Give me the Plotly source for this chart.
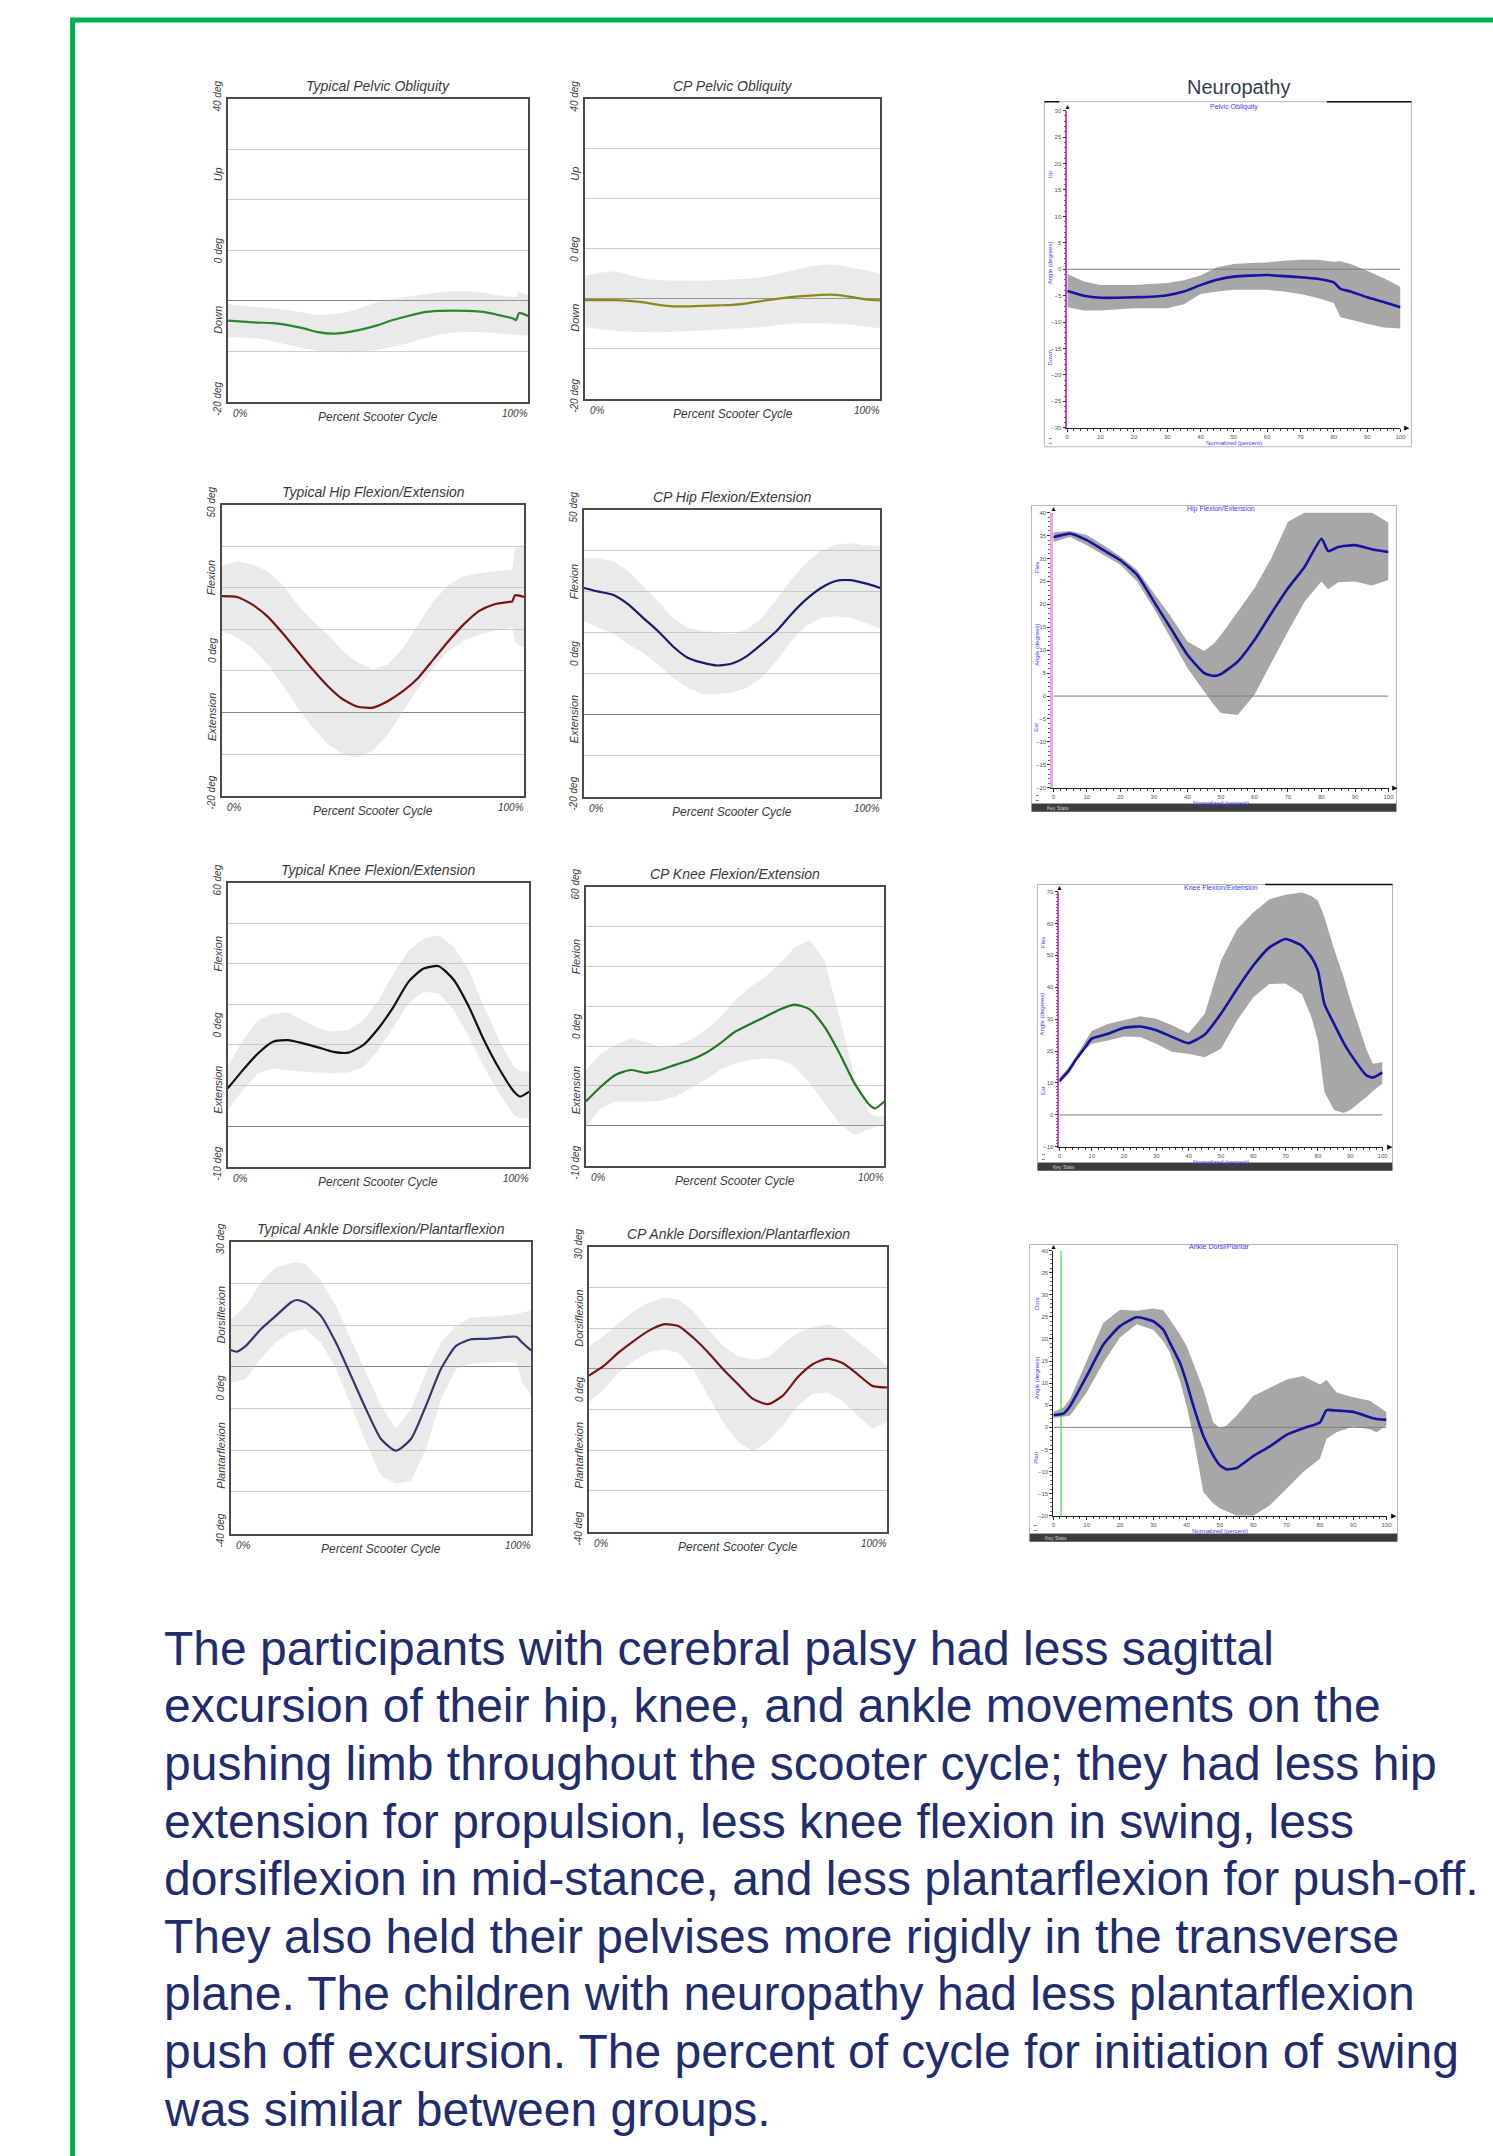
import plotly.graph_objects as go

W, H = 1493, 2156

# ---------------------------------------------------------------- data
# Typical pelvic obliquity
tpel_x = [0, 5, 10, 15, 20, 25, 30, 35, 40, 45, 50, 55, 60, 65, 70, 75, 80, 85, 90, 95, 96, 97, 100]
tpel_mean = [-3.9, -4.1, -4.3, -4.4, -4.8, -5.4, -6.2, -6.5, -6.2, -5.6, -4.8, -3.8, -3.0, -2.3, -2.0, -1.95, -2.0, -2.2, -2.8, -3.5, -3.8, -2.4, -3.0]
tpel_up = [-0.7, -1.0, -1.2, -1.5, -1.8, -2.3, -2.8, -2.6, -2.2, -1.2, -0.2, 0.4, 0.8, 1.3, 1.7, 1.9, 1.9, 1.6, 1.1, 0.8, 0.8, 1.8, 1.1]
tpel_lo = [-7.1, -7.2, -7.4, -8.0, -8.7, -9.4, -9.9, -10.1, -10.2, -10.0, -9.7, -9.1, -8.4, -7.5, -6.7, -6.3, -6.1, -6.2, -6.4, -6.7, -6.7, -6.8, -6.9]

# CP pelvic obliquity
cpel_x = [0, 5, 10, 15, 20, 25, 30, 35, 40, 45, 50, 55, 60, 65, 70, 75, 80, 85, 90, 95, 100]
cpel_mean = [-0.25, -0.25, -0.25, -0.4, -0.7, -1.2, -1.5, -1.5, -1.4, -1.3, -1.2, -0.9, -0.4, 0.0, 0.4, 0.6, 0.8, 0.8, 0.4, -0.1, -0.3]
cpel_up = [4.6, 5.2, 5.5, 4.8, 4.0, 3.7, 3.6, 3.6, 3.6, 3.7, 3.8, 4.0, 4.3, 4.9, 5.6, 6.3, 6.8, 6.8, 6.3, 5.7, 5.0]
cpel_lo = [-5.7, -6.1, -6.4, -6.6, -6.7, -6.7, -6.6, -6.5, -6.4, -6.2, -6.0, -5.9, -5.7, -5.3, -5.0, -4.9, -4.9, -5.0, -5.2, -5.5, -5.9]

# Neuropathy pelvic obliquity
npel_x = [0, 5, 10, 15, 20, 25, 30, 35, 40, 45, 50, 55, 60, 65, 70, 75, 80, 82, 85, 90, 95, 100]
npel_mean = [-4.1, -5.0, -5.4, -5.4, -5.3, -5.2, -4.9, -4.2, -3.0, -2.0, -1.4, -1.2, -1.1, -1.3, -1.5, -1.8, -2.5, -3.7, -4.2, -5.3, -6.2, -7.2]
npel_up = [-0.9, -2.3, -3.0, -3.0, -3.0, -2.8, -2.6, -2.1, -1.2, 0.4, 1.0, 1.2, 1.3, 1.6, 1.8, 1.8, 1.4, 1.5, 1.0, -0.3, -1.7, -3.3]
npel_lo = [-7.2, -7.8, -7.8, -7.6, -7.4, -7.4, -7.4, -6.6, -4.7, -4.2, -3.9, -3.9, -3.9, -4.2, -4.7, -5.4, -6.4, -9.1, -9.5, -10.3, -11.0, -11.2]

# Typical hip flexion/extension
thip_x = [0, 5, 10, 15, 20, 25, 30, 35, 40, 45, 50, 55, 60, 65, 70, 75, 80, 85, 90, 95, 96, 97, 100]
thip_mean = [28, 27.8, 26, 23.2, 19.2, 14.8, 10.4, 6.4, 3.2, 1.4, 1.2, 2.8, 5.2, 8.4, 12.8, 17.2, 21.2, 24.4, 26, 26.6, 26.7, 28.2, 27.8]
thip_up = [35.2, 36.4, 35.6, 34, 30.8, 26, 22, 18.8, 14.8, 12, 10.4, 11.6, 15.6, 21.2, 26.8, 30.8, 32.8, 33.5, 34, 34.3, 34.4, 39.6, 40]
thip_lo = [19.6, 18, 15.6, 11.6, 6.8, 1.2, -3.6, -7.6, -10, -10.8, -9.2, -5.2, 0.4, 6, 10.8, 14.8, 17.2, 18.8, 19.6, 20.2, 20.4, 16.8, 15.6]

# CP hip flexion/extension
chip_x = [0, 5, 10, 15, 20, 25, 30, 35, 40, 45, 50, 55, 60, 65, 70, 75, 80, 85, 90, 95, 100]
chip_mean = [30.9, 30, 29.2, 26.9, 23.6, 20.4, 16.7, 13.9, 12.7, 12, 12.5, 14.3, 17.2, 20.4, 24.5, 28.1, 30.9, 32.6, 32.8, 32, 30.9]
chip_up = [38.1, 38.1, 37.4, 35, 31.3, 27.7, 23.6, 21.2, 20.4, 20, 19.6, 20.8, 23.6, 28.1, 33, 37, 39.9, 41.5, 41.8, 41.3, 41.1]
chip_lo = [22.8, 21.2, 19.6, 17.2, 15.1, 12.3, 9.0, 6.6, 5.0, 5.0, 5.4, 6.6, 9.0, 13.1, 18, 21.7, 23.6, 24, 23.6, 22.4, 21]

# Neuropathy hip flexion/extension
nhip_x = [0, 5, 10, 15, 20, 25, 30, 35, 40, 45, 48, 50, 55, 60, 65, 70, 75, 80, 82, 85, 90, 95, 100]
nhip_mean = [34.6, 35.4, 34, 31.8, 29.6, 26.4, 20.6, 14.8, 9.0, 5.0, 4.4, 4.8, 7.5, 12.2, 18.0, 23.5, 28.2, 34.3, 31.6, 32.5, 32.9, 32, 31.4]
nhip_up = [35.7, 36, 35.1, 32.9, 30.4, 27.5, 22.4, 17.4, 11.9, 9.8, 11.5, 13.3, 18.4, 23.5, 30, 38, 40, 40, 40, 40, 40, 40, 37.8]
nhip_lo = [33.6, 34.7, 32.9, 30.7, 28.6, 25, 19.1, 12.6, 6.1, 1.0, -2.0, -3.7, -4.1, 0.3, 7.2, 14.1, 20.6, 25, 23.3, 24.8, 25, 24.1, 25.3]

# Typical knee flexion/extension
tkne_x = [0, 5, 10, 15, 20, 25, 30, 35, 40, 45, 50, 55, 60, 65, 70, 75, 80, 85, 90, 95, 97, 100]
tkne_mean = [9.3, 13.8, 17.9, 20.8, 21.2, 20.4, 19.4, 18.3, 18.1, 20, 24.1, 29.4, 35.6, 38.8, 39.4, 36, 29.4, 21.2, 14.2, 8.5, 7.3, 8.5]
tkne_up = [14.6, 21.2, 26.1, 27.7, 28.0, 26.1, 24.1, 23.3, 23.7, 26.1, 31, 37.6, 43.3, 46.2, 47, 44.1, 38.4, 29.4, 21.2, 14.6, 13.5, 13.6]
tkne_lo = [4.0, 8.9, 13, 14.2, 13.8, 13.4, 13.2, 13, 13.2, 14.6, 18.7, 24.5, 30.2, 33.1, 32.7, 28.6, 22, 14.6, 8.1, 2.7, 2.0, 1.9]

# CP knee flexion/extension
ckne_x = [0, 5, 10, 15, 20, 25, 30, 35, 40, 45, 50, 55, 60, 65, 70, 75, 80, 85, 90, 95, 97, 100]
ckne_mean = [6.1, 9.8, 12.8, 14, 13.3, 14, 15.3, 16.5, 18.2, 20.7, 23.6, 25.5, 27.3, 29.2, 30.4, 29.2, 24.8, 18.2, 10.7, 5.3, 4.4, 6.1]
ckne_up = [14, 18.2, 20.3, 21.9, 21.1, 19.8, 20.3, 21.5, 24, 27.3, 31.5, 34.8, 37.3, 40.7, 44.8, 46.6, 41.5, 27.3, 12.3, 3.2, 2.5, 2.3]
ckne_lo = [-0.2, 4.4, 6.1, 6.1, 6.1, 6.3, 7.3, 9.4, 11.5, 14, 15.7, 16.5, 16.9, 16.7, 14.8, 10.7, 5.7, 0.7, -2.3, -1.0, -0.3, 0.25]

# Neuropathy knee flexion/extension
nkne_x = [0, 3, 5, 8, 10, 15, 20, 25, 30, 35, 40, 45, 50, 55, 60, 65, 70, 75, 78, 80, 82, 85, 88, 90, 95, 97, 100]
nkne_mean = [10.6, 14, 17.1, 21.2, 23.9, 25.4, 27.3, 27.7, 26.5, 24.4, 22.5, 25.2, 31.7, 39.5, 46.8, 52.5, 55.1, 53, 49.4, 45.2, 34.8, 28.5, 22.5, 19.2, 12.4, 11.7, 13.3]
nkne_up = [11.4, 15, 18.1, 23, 26.3, 28.5, 29.8, 30.9, 30.1, 28, 25.6, 31.7, 48.3, 58.2, 63.4, 67.6, 69, 69.7, 68.6, 67.1, 62, 52, 43, 36, 20.5, 16, 16.6]
nkne_lo = [9.8, 13, 16.6, 20.5, 22.3, 23.3, 24.6, 24.4, 22.3, 19.7, 19.2, 18.1, 20.7, 29.6, 36.9, 41, 41.2, 37.9, 30.6, 23.3, 7.2, 1.5, 0.6, 1.5, 5.6, 7.5, 9.8]

# Typical ankle dorsiflexion/plantarflexion
tank_x = [0, 2, 5, 10, 15, 20, 22, 25, 30, 35, 40, 45, 50, 55, 60, 65, 70, 75, 80, 85, 90, 95, 97, 100]
tank_mean = [4.0, 3.6, 5.0, 9.0, 12.2, 15.4, 16.0, 15.3, 12.2, 5.8, -2.1, -10.1, -17.3, -20.1, -17.3, -9.3, -0.5, 5.0, 6.6, 6.7, 7.0, 7.2, 5.8, 3.9]
tank_up = [11.4, 12.5, 14.6, 20.2, 23.8, 24.8, 25, 24.6, 20.6, 14.6, 6.6, -1.3, -9.3, -14.8, -10.1, -1.3, 5.8, 9.8, 11.8, 12.0, 12.2, 12.6, 13, 13.4]
tank_lo = [-3.7, -3.5, -2.9, 1.9, 5.8, 8.2, 8.6, 9.0, 5.8, -0.5, -9.3, -18.1, -26.1, -28, -27.3, -19.7, -7.7, -0.5, 0.7, 1.0, 1.1, 1.1, -3.7, -6.9]

# CP ankle dorsiflexion/plantarflexion
cank_x = [0, 5, 10, 15, 20, 25, 30, 35, 40, 45, 50, 55, 60, 65, 70, 75, 80, 85, 90, 95, 100]
cank_mean = [-1.7, 0.7, 4, 6.8, 9.3, 10.9, 10.5, 7.6, 4, -0.1, -3.8, -7.4, -8.7, -6.6, -2.1, 1.1, 2.5, 1.4, -1.3, -4.2, -4.6]
cank_up = [5.6, 8.0, 11.3, 14.1, 16.2, 17.4, 17, 14.1, 9.7, 5.6, 3.1, 2.3, 2.8, 6.0, 8.8, 10.1, 10.9, 9.7, 6.8, 4, 0.7]
cank_lo = [-8.2, -5, -0.9, 1.9, 4, 4.8, 4, -0.1, -6.6, -13.1, -18, -20.2, -18, -13.9, -9.1, -6.2, -5.8, -7.9, -11.5, -14.8, -13.1]

# Neuropathy ankle dorsi/plantar
nank_x = [0, 3, 5, 10, 15, 20, 25, 30, 33, 35, 38, 40, 42, 45, 48, 50, 52, 55, 60, 65, 70, 75, 80, 82, 85, 90, 95, 97, 100]
nank_mean = [2.8, 3.1, 4.8, 11.6, 18.7, 22.9, 24.9, 24, 22.1, 19.1, 14.6, 10.1, 4.9, -1.9, -6.4, -8.6, -9.5, -9.2, -6.5, -4.3, -1.7, -0.2, 1.1, 3.9, 3.8, 3.5, 2.3, 1.9, 1.7]
nank_up = [3.5, 4.5, 6.4, 15.0, 23.6, 26.6, 26.4, 26.9, 26.5, 24.4, 21, 18.4, 14.5, 8.6, 1.1, -0.2, 0.4, 2.6, 7.1, 9.0, 10.8, 11.6, 9.7, 10.7, 7.9, 6.8, 6.0, 5.0, 3.4]
nank_lo = [2.1, 2.3, 2.6, 7.9, 14.6, 20.3, 23.3, 22.1, 19.5, 16.9, 10.5, 4.9, -2, -14.6, -17.2, -18.3, -19, -20, -20, -17.6, -13.9, -10.1, -7.1, -2.6, -1.1, 0.2, -0.4, -1.1, 0.4]
nank_marker_x = 2.3

# tick / axis labels
pel_deg_labels = ["40 deg", "0 deg", "-20 deg"]
hip_deg_labels = ["50 deg", "0 deg", "-20 deg"]
kne_deg_labels = ["60 deg", "0 deg", "-10 deg"]
ank_deg_labels = ["30 deg", "0 deg", "-40 deg"]
pct_labels = ["0%", "Percent Scooter Cycle", "100%"]

paragraph = [
    "The participants with cerebral palsy had less sagittal",
    "excursion of their hip, knee, and ankle movements on the",
    "pushing limb throughout the scooter cycle; they had less hip",
    "extension for propulsion, less knee flexion in swing, less",
    "dorsiflexion in mid-stance, and less plantarflexion for push-off.",
    "They also held their pelvises more rigidly in the transverse",
    "plane. The children with neuropathy had less plantarflexion",
    "push off excursion. The percent of cycle for initiation of swing",
    "was similar between groups.",
]

# ---------------------------------------------------------------- panels
std_panels = [
    dict(box=(227, 96, 529, 400), yr=(-20, 40), x=tpel_x, m=tpel_mean, u=tpel_up, l=tpel_lo,
         color="#2a8a2a", title="Typical Pelvic Obliquity", deg=pel_deg_labels, words=("Up", "Down")),
    dict(box=(586, 96, 883, 397), yr=(-20, 40), x=cpel_x, m=cpel_mean, u=cpel_up, l=cpel_lo,
         color="#8a8a1c", title="CP Pelvic Obliquity", deg=pel_deg_labels, words=("Up", "Down")),
    dict(box=(221, 503, 525, 795), yr=(-20, 50), x=thip_x, m=thip_mean, u=thip_up, l=thip_lo,
         color="#7a1414", title="Typical Hip Flexion/Extension", deg=hip_deg_labels, words=("Flexion", "Extension")),
    dict(box=(585, 508, 883, 796), yr=(-20, 50), x=chip_x, m=chip_mean, u=chip_up, l=chip_lo,
         color="#1c1c6e", title="CP Hip Flexion/Extension", deg=hip_deg_labels, words=("Flexion", "Extension")),
    dict(box=(227, 882, 530, 1167), yr=(-10, 60), x=tkne_x, m=tkne_mean, u=tkne_up, l=tkne_lo,
         color="#111111", title="Typical Knee Flexion/Extension", deg=kne_deg_labels, words=("Flexion", "Extension")),
    dict(box=(587, 886, 887, 1166), yr=(-10, 60), x=ckne_x, m=ckne_mean, u=ckne_up, l=ckne_lo,
         color="#1e7a1e", title="CP Knee Flexion/Extension", deg=kne_deg_labels, words=("Flexion", "Extension")),
    dict(box=(230, 1242, 532, 1535), yr=(-40, 30), x=tank_x, m=tank_mean, u=tank_up, l=tank_lo,
         color="#36366e", title="Typical Ankle Dorsiflexion/Plantarflexion", deg=ank_deg_labels,
         words=("Dorsiflexion", "Plantarflexion")),
    dict(box=(590, 1247, 890, 1533), yr=(-40, 30), x=cank_x, m=cank_mean, u=cank_up, l=cank_lo,
         color="#761616", title="CP Ankle Dorsiflexion/Plantarflexion", deg=ank_deg_labels,
         words=("Dorsiflexion", "Plantarflexion")),
]

neuro_panels = [
    dict(plot=(1071, 108, 1406, 426), outer=(1048, 99, 1417, 445), bar=False, yr=(-30, 30), dt=5,
         x=npel_x, m=npel_mean, u=npel_up, l=npel_lo, title="Pelvic Obliquity", words=("Up", "Down"),
         acol="#cc44cc", aw=1.5),
    dict(plot=(1057, 511, 1394, 787), outer=(1035, 504, 1402, 803), bar=True, yr=(-20, 40), dt=5,
         x=nhip_x, m=nhip_mean, u=nhip_up, l=nhip_lo, title="Hip Flexion/Extension", words=("Flex", "Ext"),
         acol="#e8a6e8", aw=3),
    dict(plot=(1063, 891, 1388, 1147), outer=(1041, 884, 1398, 1163), bar=True, yr=(-10, 70), dt=10,
         x=nkne_x, m=nkne_mean, u=nkne_up, l=nkne_lo, title="Knee Flexion/Extension", words=("Flex", "Ext"),
         acol="#dd44dd", aw=1.5),
    dict(plot=(1057, 1251, 1392, 1517), outer=(1033, 1245, 1403, 1535), bar=True, yr=(-20, 40), dt=5,
         x=nank_x, m=nank_mean, u=nank_up, l=nank_lo, title="Ankle Dorsi/Plantar", words=("Dors", "Plan"),
         acol="#222222", aw=1),
]


def PX(v):
    return v / W


def PY(v):
    return 1 - v / H


fig = go.Figure()
layout = {}
annotations = []
shapes = []
FONT = "Arial, Liberation Sans, sans-serif"
GRAY_TXT = "#3a3a3a"


def axis_names(i):
    s = "" if i == 1 else str(i)
    return "x" + s, "y" + s, "xaxis" + s, "yaxis" + s


def ann(x, y, text, size, color=GRAY_TXT, angle=0, xanchor="center", yanchor="middle", **kw):
    annotations.append(dict(x=x, y=y, xref="paper", yref="paper", text=text, showarrow=False,
                            font=dict(family=FONT, size=size, color=color), textangle=angle,
                            xanchor=xanchor, yanchor=yanchor, **kw))


idx = 0
for p in std_panels:
    idx += 1
    xn, yn, xk, yk = axis_names(idx)
    x0, y0, x1, y1 = p["box"]
    fig.add_trace(go.Scatter(x=p["x"], y=p["l"], xaxis=xn, yaxis=yn, mode="lines",
                             line=dict(width=0, color="rgba(0,0,0,0)"), hoverinfo="skip", showlegend=False))
    fig.add_trace(go.Scatter(x=p["x"], y=p["u"], xaxis=xn, yaxis=yn, mode="lines", fill="tonexty",
                             fillcolor="rgba(190,190,190,0.33)", line=dict(width=0, color="rgba(0,0,0,0)"),
                             hoverinfo="skip", showlegend=False))
    fig.add_trace(go.Scatter(x=p["x"], y=p["m"], xaxis=xn, yaxis=yn, mode="lines",
                             line=dict(width=2.2, color=p["color"], shape="spline", smoothing=0.6),
                             showlegend=False))
    layout[xk] = dict(domain=[PX(x0), PX(x1)], range=[0, 100], showgrid=False, showticklabels=False,
                      ticks="", zeroline=False, showline=True, mirror=True, linecolor="#4a4a4a",
                      linewidth=1.5, anchor=yn)
    layout[yk] = dict(domain=[PY(y1), PY(y0)], range=list(p["yr"]), dtick=10, tick0=0, showgrid=True,
                      gridcolor="#cdcdcd", gridwidth=1, zeroline=True, zerolinecolor="#858585",
                      zerolinewidth=1.3, showticklabels=False, ticks="", showline=True, mirror=True,
                      linecolor="#4a4a4a", linewidth=1.5, anchor=xn)
    cx = (x0 + x1) / 2
    hgt = y1 - y0
    ann(PX(cx), PY(y0 - 13), "<i>%s</i>" % p["title"], 14)
    lx = x0 - 10
    ann(PX(lx), PY(y0 - 3), "<i>%s</i>" % p["deg"][0], 10, angle=-90)
    ann(PX(lx), PY(y0 + 0.25 * hgt), "<i>%s</i>" % p["words"][0], 11, angle=-90)
    ann(PX(lx), PY(y0 + 0.5 * hgt), "<i>%s</i>" % p["deg"][1], 10, angle=-90)
    ann(PX(lx), PY(y0 + 0.73 * hgt), "<i>%s</i>" % p["words"][1], 11, angle=-90)
    ann(PX(lx), PY(y1 - 3), "<i>%s</i>" % p["deg"][2], 10, angle=-90)
    ann(PX(x0 + 13), PY(y1 + 12), "<i>%s</i>" % pct_labels[0], 10)
    ann(PX(cx), PY(y1 + 15), "<i>%s</i>" % pct_labels[1], 12)
    ann(PX(x1 - 13), PY(y1 + 12), "<i>%s</i>" % pct_labels[2], 10)

BLUE_TXT = "#3b3bff"
for p in neuro_panels:
    idx += 1
    xn, yn, xk, yk = axis_names(idx)
    x0, y0, x1, y1 = p["plot"]
    ox0, oy0, ox1, oy1 = p["outer"]
    # outer frame
    shapes.append(dict(type="rect", xref="paper", yref="paper", x0=PX(ox0), x1=PX(ox1), y0=PY(oy1), y1=PY(oy0),
                       line=dict(color="#b4b4b4", width=1), fillcolor="rgba(0,0,0,0)", layer="below"))
    if p["bar"]:
        shapes.append(dict(type="rect", xref="paper", yref="paper", x0=PX(ox0), x1=PX(ox1), y0=PY(oy1 + 8),
                           y1=PY(oy1), line=dict(width=0), fillcolor="#3c3c3c", layer="below"))
        ann(PX(ox0 + 14), PY(oy1 + 4), "Key Stats", 5, color="#cfcfcf", xanchor="left")
    ymin, ymax = p["yr"]
    fig.add_trace(go.Scatter(x=p["x"], y=p["l"], xaxis=xn, yaxis=yn, mode="lines",
                             line=dict(width=0, color="rgba(0,0,0,0)"), hoverinfo="skip", showlegend=False))
    fig.add_trace(go.Scatter(x=p["x"], y=p["u"], xaxis=xn, yaxis=yn, mode="lines", fill="tonexty",
                             fillcolor="#a7a7a7", line=dict(width=0, color="rgba(0,0,0,0)"),
                             hoverinfo="skip", showlegend=False))
    fig.add_trace(go.Scatter(x=[0, 100], y=[0, 0], xaxis=xn, yaxis=yn, mode="lines",
                             line=dict(width=1, color="#7c7c7c"), hoverinfo="skip", showlegend=False))
    if p["title"].startswith("Ankle"):
        fig.add_trace(go.Scatter(x=[nank_marker_x, nank_marker_x], y=[ymin, ymax], xaxis=xn, yaxis=yn,
                                 mode="lines", line=dict(width=1.2, color="#44dd44"), hoverinfo="skip",
                                 showlegend=False))
    fig.add_trace(go.Scatter(x=p["x"], y=p["m"], xaxis=xn, yaxis=yn, mode="lines",
                             line=dict(width=2.6, color="#1414a0", shape="spline", smoothing=0.5),
                             showlegend=False))
    layout[xk] = dict(domain=[PX(x0), PX(x1)], range=[0, 100], showgrid=False, zeroline=False,
                      dtick=10, tick0=0, ticks="outside", ticklen=3, tickcolor="#333", tickwidth=1,
                      tickfont=dict(family=FONT, size=6, color="#555"), showline=True,
                      linecolor="#222", linewidth=1, anchor=yn,
                      minor=dict(ticks="outside", ticklen=2, dtick=2, tickcolor="#444"))
    layout[yk] = dict(domain=[PY(y1), PY(y0)], range=[ymin, ymax], showgrid=False, zeroline=False,
                      dtick=p["dt"], tick0=0, ticks="outside", ticklen=3, tickcolor="#333", tickwidth=1,
                      tickfont=dict(family=FONT, size=6, color="#555"), showline=True,
                      linecolor=p["acol"], linewidth=p["aw"], anchor=xn,
                      minor=dict(ticks="outside", ticklen=2, dtick=1, tickcolor="#666"))
    # arrows
    ann(PX(x1 + 7), PY(y1), "▶", 7, color="#111")
    ann(PX(x0), PY(y0 - 4), "▲", 7, color="#111")
    cx = (x0 + x1) / 2
    hgt = y1 - y0
    ann(PX(cx), PY(y0 - 4), p["title"], 7, color=BLUE_TXT)
    lx = x0 - 17
    ann(PX(lx), PY(y0 + 0.2 * hgt), p["words"][0], 6, color=BLUE_TXT, angle=-90)
    ann(PX(lx), PY(y0 + 0.48 * hgt), "Angle (degrees)", 6, color=BLUE_TXT, angle=-90)
    ann(PX(lx), PY(y0 + 0.78 * hgt), p["words"][1], 6, color=BLUE_TXT, angle=-90)
    ann(PX(cx), PY(y1 + 15), "Normalized (percent)", 6, color=BLUE_TXT)
    ann(PX(ox0 + 6), PY(oy1 - 6), "▪▪<br>▪▪", 4, color="#333")

# extra decorations around neuropathy pelvic panel
shapes.append(dict(type="line", xref="paper", yref="paper", x0=PX(1332), x1=PX(1417), y0=PY(99), y1=PY(99),
                   line=dict(color="#111", width=1.5)))
shapes.append(dict(type="line", xref="paper", yref="paper", x0=PX(1048), x1=PX(1063), y0=PY(99), y1=PY(99),
                   line=dict(color="#111", width=1.5)))
shapes.append(dict(type="line", xref="paper", yref="paper", x0=PX(1270), x1=PX(1398), y0=PY(884), y1=PY(884),
                   line=dict(color="#111", width=1.5)))
ann(PX(1243), PY(84), "Neuropathy", 20, color="#333d4d")

# green frame
GREEN = "#00b050"
shapes.append(dict(type="line", xref="paper", yref="paper", x0=PX(71), x1=PX(71), y0=PY(2160), y1=PY(15),
                   line=dict(color=GREEN, width=5)))
shapes.append(dict(type="line", xref="paper", yref="paper", x0=PX(69), x1=PX(1500), y0=PY(17), y1=PY(17),
                   line=dict(color=GREEN, width=5)))

# paragraph
for k, line in enumerate(paragraph):
    ann(PX(161), PY(1650 + k * 57.75), line, 48, color="#1f2d6e", xanchor="left")

layout.update(dict(width=W, height=H, autosize=False, margin=dict(l=0, r=0, t=0, b=0),
                   paper_bgcolor="white", plot_bgcolor="white", showlegend=False,
                   annotations=annotations, shapes=shapes, font=dict(family=FONT)))
fig.update_layout(**layout)

fig.write_html("out.html", config={"displayModeBar": False},
               post_script="document.body.style.margin='0';document.body.style.overflow='hidden';")
